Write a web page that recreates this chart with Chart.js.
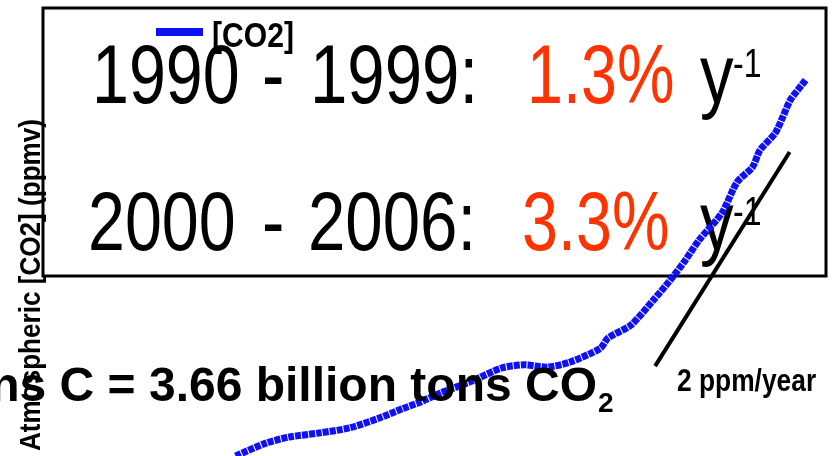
<!DOCTYPE html>
<html>
<head>
<meta charset="utf-8">
<script src="https://cdn.jsdelivr.net/npm/chart.js@4.4.1/dist/chart.umd.min.js"></script>
<style>
  html, body { margin: 0; padding: 0; background: #fff; }
  #wrap { width: 836px; height: 456px; }
</style>
</head>
<body>
<div id="wrap"><canvas id="co2Chart"></canvas></div>
<script>
// values
const years = [1931, 1935, 1938, 1942, 1946, 1950, 1953, 1955, 1958, 1962, 1966, 1969, 1972, 1975,
  1979, 1980, 1983, 1986, 1988, 1990, 1992, 1995, 1997, 1999, 2000, 2002, 2003, 2004, 2006];
const co2 = [300.0, 302.8, 304.1, 305.0, 306.1, 308.3, 310.3, 311.5, 313.7, 316.2, 319.1, 319.8, 319.3, 320.4,
  323.4, 325.6, 328.4, 333.9, 337.8, 342.1, 346.9, 352.8, 359.5, 362.7, 366.4, 370.1, 373.6, 377.3, 381.6];
const trendYears = [1986.2, 2003.9];
const trendPpm = [319.5, 366.0];

const seriesLabel = '[CO2]';
const axisTitle = 'Atmospheric [CO2] (ppmv)';
const rateLines = [
  { from: '1990', to: '1999:', rate: '1.3%' },
  { from: '2000', to: '2006:', rate: '3.3%' }
];
const trendLabel = '2 ppm/year';
const noteText = 'tons C = 3.66 billion tons CO';

function text(ctx, str, x, y, font, color, sx) {
  ctx.save();
  ctx.font = font;
  ctx.fillStyle = color;
  ctx.translate(x, y);
  ctx.scale(sx || 1, 1);
  ctx.fillText(str, 0, 0);
  ctx.restore();
}

const slidePlugin = {
  id: 'slide',
  beforeDatasetsDraw(chart) {
    const ctx = chart.ctx;
    ctx.save();
    ctx.strokeStyle = '#000';
    ctx.lineWidth = 3;
    ctx.strokeRect(43, 8, 783, 268);
    ctx.restore();

    const big = '84px "Liberation Sans", Arial, sans-serif';
    const sup = '40px "Liberation Sans", Arial, sans-serif';
    const rows = [{ y: 103, sy: 77, fx: 92, tx: 310, rx: 527 }, { y: 250, sy: 225, fx: 88, tx: 308, rx: 522 }];
    rateLines.forEach((r, i) => {
      const p = rows[i];
      text(ctx, r.from, p.fx, p.y, big, '#000', 0.79);
      text(ctx, '-', 262, p.y, big, '#000', 0.8);
      text(ctx, r.to, p.tx, p.y, big, '#000', 0.8);
      text(ctx, r.rate, p.rx, p.y, big, '#ff3300', 0.77);
      text(ctx, 'y', 700, p.y, big, '#000', 0.8);
      text(ctx, '-1', 733, p.sy, sup, '#000', 0.8);
    });
  },
  afterDraw(chart) {
    const ctx = chart.ctx;
    // legend
    const ds = chart.data.datasets[0];
    ctx.fillStyle = ds.borderColor;
    ctx.fillRect(156, 28, 47, 8);
    text(ctx, ds.label, 212, 47, 'bold 35px "Liberation Sans", Arial, sans-serif', '#000', 0.86);

    // y axis title
    ctx.save();
    ctx.translate(40, 285);
    ctx.rotate(-Math.PI / 2);
    ctx.scale(0.87, 1);
    ctx.font = 'bold 30px "Liberation Sans", Arial, sans-serif';
    ctx.fillStyle = '#000';
    ctx.textAlign = 'center';
    ctx.fillText(axisTitle, 0, 0);
    ctx.restore();

    // note
    ctx.save();
    ctx.font = 'bold 48px "Liberation Sans", Arial, sans-serif';
    ctx.fillStyle = '#000';
    ctx.textAlign = 'right';
    ctx.fillText(noteText, 597, 401);
    ctx.textAlign = 'left';
    ctx.font = 'bold 28px "Liberation Sans", Arial, sans-serif';
    ctx.fillText('2', 598, 412);
    ctx.restore();

    text(ctx, trendLabel, 677, 391, 'bold 31px "Liberation Sans", Arial, sans-serif', '#000', 0.85);
  }
};

new Chart(document.getElementById('co2Chart'), {
  type: 'line',
  data: {
    datasets: [
      {
        label: seriesLabel,
        data: years.map((y, i) => ({ x: y, y: co2[i] })),
        borderColor: '#1010f5',
        borderWidth: 7,
        borderDash: [6, 1],
        borderCapStyle: 'butt',
        pointRadius: 0,
        tension: 0.25
      },
      {
        label: 'trend',
        data: trendYears.map((y, i) => ({ x: y, y: trendPpm[i] })),
        borderColor: '#000',
        borderWidth: 4,
        pointRadius: 0
      }
    ]
  },
  options: {
    responsive: true,
    maintainAspectRatio: false,
    animation: false,
    layout: { padding: 0 },
    plugins: { legend: { display: false }, tooltip: { enabled: false } },
    scales: {
      x: { type: 'linear', min: 1900, max: 2010, display: false },
      y: { min: 300, max: 399, display: false }
    }
  },
  plugins: [slidePlugin]
});
</script>
</body>
</html>
